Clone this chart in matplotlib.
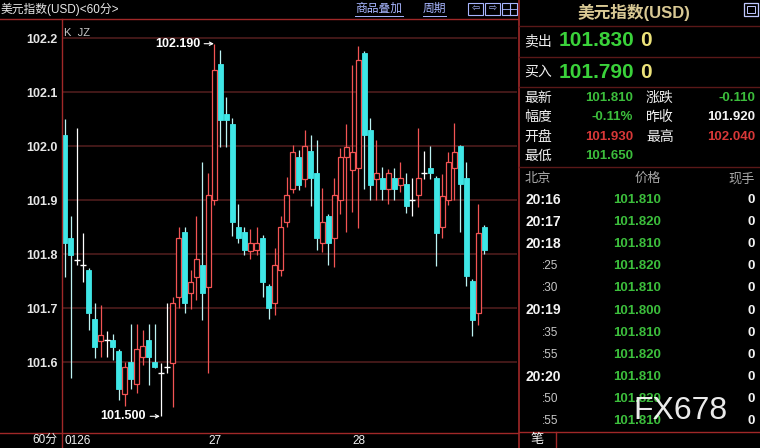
import numpy as np
import matplotlib
matplotlib.use("Agg")
import matplotlib.pyplot as plt
from matplotlib.lines import Line2D
from matplotlib.patches import Rectangle

plt.rcParams['font.family'] = ['Liberation Sans', 'Noto Sans CJK SC', 'DejaVu Sans']

# ---------------- data ----------------
opens = [102.021, 101.831, 101.789, 101.780, 101.771, 101.680, 101.640, 101.641, 101.641, 101.621,
         101.541, 101.600, 101.559, 101.610, 101.641, 101.601, 101.580, 101.592, 101.598, 101.720,
         101.841, 101.728, 101.758, 101.780, 101.740, 101.901, 102.152, 102.059, 102.041, 101.851,
         101.842, 101.806, 101.808, 101.830, 101.741, 101.709, 101.771, 101.859, 101.920, 101.981,
         101.940, 101.992, 101.950, 101.820, 101.871, 101.830, 101.901, 101.981, 101.956, 101.959,
         102.172, 102.031, 101.940, 101.941, 101.920, 101.941, 101.929, 101.930, 101.901, 101.909,
         101.950, 101.959, 101.941, 101.851, 101.901, 101.959, 102.000, 101.941, 101.750, 101.691,
         101.851]
highs = [102.051, 101.870, 102.033, 101.840, 101.775, 101.710, 101.706, 101.658, 101.652, 101.625,
         101.600, 101.671, 101.671, 101.660, 101.671, 101.671, 101.599, 101.710, 101.721, 101.851,
         101.851, 101.771, 101.870, 101.971, 101.950, 102.190, 102.178, 102.092, 102.052, 101.894,
         101.851, 101.847, 101.851, 101.835, 101.745, 101.811, 101.870, 101.944, 102.002, 101.994,
         102.030, 102.021, 102.012, 101.922, 101.875, 101.941, 101.997, 102.041, 102.151, 102.186,
         102.176, 102.052, 102.011, 101.961, 101.958, 101.960, 101.971, 101.950, 101.941, 102.033,
         101.991, 102.001, 101.945, 101.949, 101.990, 102.043, 102.003, 101.971, 101.755, 101.894,
         101.855]
lows = [101.758, 101.571, 101.780, 101.749, 101.660, 101.608, 101.610, 101.610, 101.605, 101.530,
        101.519, 101.551, 101.543, 101.595, 101.558, 101.590, 101.500, 101.580, 101.518, 101.701,
        101.691, 101.699, 101.715, 101.678, 101.580, 101.891, 101.999, 101.999, 101.833, 101.821,
        101.799, 101.791, 101.799, 101.721, 101.680, 101.688, 101.759, 101.851, 101.913, 101.919,
        101.925, 101.889, 101.808, 101.804, 101.780, 101.777, 101.875, 101.842, 101.879, 101.848,
        101.921, 101.901, 101.901, 101.901, 101.893, 101.901, 101.916, 101.876, 101.870, 101.888,
        101.940, 101.940, 101.778, 101.830, 101.891, 101.901, 101.842, 101.742, 101.649, 101.669,
        101.801]
closes = [101.821, 101.799, 101.789, 101.780, 101.691, 101.628, 101.651, 101.641, 101.629, 101.550,
          101.592, 101.570, 101.625, 101.630, 101.609, 101.592, 101.580, 101.592, 101.709, 101.830,
          101.709, 101.749, 101.791, 101.728, 101.910, 102.141, 102.049, 102.049, 101.859, 101.830,
          101.808, 101.820, 101.821, 101.749, 101.700, 101.780, 101.851, 101.910, 101.990, 101.928,
          102.000, 101.941, 101.830, 101.860, 101.820, 101.910, 101.981, 101.999, 101.990, 102.160,
          102.020, 101.928, 101.950, 101.920, 101.950, 101.920, 101.941, 101.889, 101.901, 101.941,
          101.950, 101.950, 101.840, 101.908, 101.971, 101.990, 101.930, 101.759, 101.678, 101.840,
          101.808]

y_ticks = [101.6, 101.7, 101.8, 101.9, 102.0, 102.1, 102.2]
y_labels = ['101.6', '101.7', '101.8', '101.9', '102.0', '102.1', '102.2']
x_tick_pos = [0, 24, 48]
x_tick_labels = ['0126', '27', '28']

sell_price, sell_vol = '101.830', '0'
buy_price, buy_vol = '101.790', '0'
stat_rows = [
    ('最新', '101.810', 'g', '涨跌', '-0.110', 'g'),
    ('幅度', '-0.11%', 'g', '昨收', '101.920', 'w'),
    ('开盘', '101.930', 'r', '最高', '102.040', 'r'),
    ('最低', '101.650', 'g', '', '', 'g'),
]
tick_times = ['20:16', '20:17', '20:18', ':25', ':30', '20:19', ':35', ':55', '20:20', ':50', ':55']
tick_prices = ['101.810', '101.820', '101.810', '101.820', '101.810', '101.800',
               '101.810', '101.820', '101.810', '101.820', '101.810']
tick_vols = ['0'] * 11

# ---------------- figure ----------------
W, H = 760, 448
fig = plt.figure(figsize=(W / 100, H / 100), dpi=100, facecolor='black')

RED = '#f25454'
CYAN = '#3fe6e6'
CYAN_WICK = '#bdf2f2'
GRID = '#4e1c1c'
BORDER = '#a02828'
GREEN = '#3ad23a'
GREEN2 = '#3cbe3c'


def fx(x):
    return x / W


def fy(y):
    return 1 - y / H


def T(x, y, s, **kw):
    kw.setdefault('va', 'center')
    kw.setdefault('color', 'white')
    fig.text(fx(x), fy(y), s, **kw)


def HL(x0, x1, y, color=BORDER, lw=1.0):
    fig.add_artist(Line2D([fx(x0), fx(x1)], [fy(y), fy(y)], color=color, lw=lw,
                          transform=fig.transFigure))


def VL(x, y0, y1, color=BORDER, lw=1.0):
    fig.add_artist(Line2D([fx(x), fx(x)], [fy(y0), fy(y1)], color=color, lw=lw,
                          transform=fig.transFigure))


# main candle axes
ax_l, ax_r, ax_t, ax_b = 62, 517, 19, 432
ax = fig.add_axes([fx(ax_l), fy(ax_b), (ax_r - ax_l) / W, (ax_b - ax_t) / H])
ax.set_facecolor('black')
x0px, step = 64.5, 6.0
ax.set_xlim(-(x0px - ax_l) / step, (ax_r - x0px) / step)
ppu = 540.0  # pixels per 1.0 price
ax.set_ylim(102.2 - (ax_b - 38.3) / ppu, 102.2 + (38.3 - ax_t) / ppu)
for s in ax.spines.values():
    s.set_visible(False)

O = np.array(opens); Hh = np.array(highs); L = np.array(lows); C = np.array(closes)
x = np.arange(len(O))
up = C > O
dn = C < O
dj = C == O

ax.vlines(x[up], L[up], Hh[up], colors=RED, lw=0.9, zorder=2)
ax.vlines(x[dn], L[dn], Hh[dn], colors=CYAN_WICK, lw=0.9, zorder=2)
ax.vlines(x[dj], L[dj], Hh[dj], colors='white', lw=0.9, zorder=2)
bw = 0.72
ax.bar(x[up], (C - O)[up], bottom=O[up], width=bw, facecolor='black', edgecolor=RED,
       linewidth=0.9, zorder=3)
ax.bar(x[dn], (O - C)[dn], bottom=C[dn], width=bw, facecolor=CYAN, edgecolor=CYAN,
       linewidth=0.6, zorder=3)
ax.hlines(O[dj], x[dj] - 0.5, x[dj] + 0.5, colors='white', lw=1.0, zorder=3)

ax.set_yticks(y_ticks)
ax.set_yticklabels(y_labels, fontsize=9, fontweight='bold', color='#e6e6e6')
ax.tick_params(axis='y', length=0, pad=3)
ax.set_xticks(x_tick_pos)
ax.set_xticklabels(x_tick_labels, fontsize=8.5, color='#f0f0f0', ha='left')
for lbl in ax.get_xticklabels():
    lbl.set_x(lbl.get_position()[0])
ax.tick_params(axis='x', length=0, pad=2)
ax.yaxis.grid(True, color=GRID, lw=1.2)
ax.set_axisbelow(True)

# max / min annotations
imax = int(np.argmax(Hh))
imin = int(np.argmin(L))
for i, v in ((imax, Hh[imax]), (imin, L[imin])):
    ax.annotate(f'{v:.3f}', xy=(i - 0.1, v), xytext=(-10, 0), textcoords='offset points',
                ha='right', va='center', color='white', fontsize=9, fontweight='bold',
                arrowprops=dict(arrowstyle='->', color='white', lw=0.8,
                                shrinkA=1, shrinkB=0, mutation_scale=6), zorder=5)

ax.text(0.005, 0.978, 'K  JZ', transform=ax.transAxes, color='#c8c8c8', fontsize=8,
        ha='left', va='top')

# frame lines of left area
HL(0, 518, 19, color=BORDER, lw=1.0)
HL(0, 518, 432.5, color=BORDER, lw=1.0)
VL(62, 19, 448, color=BORDER, lw=1.0)
VL(518.5, 0, 448, color=BORDER, lw=1.2)
T(32, 440, '60分', fontsize=8.5, ha='left', color='#f0f0f0')

# title bar
T(1, 9, '美元指数(USD)<60分>', fontsize=8.5, ha='left', color='#e8e8e8')
LINK = '#a8b6ff'
T(355, 9, '商品叠加', fontsize=8.5, ha='left', color=LINK)
HL(355, 403, 16, color=LINK, lw=0.7)
T(423, 9, '周期', fontsize=8.5, ha='left', color=LINK)
HL(423, 446, 16, color=LINK, lw=0.7)
for bx, sym in ((468, '⇦'), (485, '⇨'), (502, '')):
    fig.add_artist(Rectangle((fx(bx), fy(15)), 15 / W, 12 / H, transform=fig.transFigure,
                             fill=False, edgecolor=LINK, lw=0.8))
    if sym:
        T(bx + 7.5, 9, sym, fontsize=7, ha='center', color=LINK, family=['DejaVu Sans'])
VL(509.5, 3, 15, color=LINK, lw=0.8)
HL(502, 517, 9, color=LINK, lw=0.6)

# ---------------- right panel ----------------
T(634, 12, '美元指数(USD)', fontsize=12, ha='center', color='#d9c994', fontweight='bold')
fig.add_artist(Rectangle((fx(744), fy(16)), 14 / W, 13 / H, transform=fig.transFigure,
                         fill=False, edgecolor='#c0c8ff', lw=0.9))
fig.add_artist(Rectangle((fx(747), fy(13)), 8 / W, 7 / H, transform=fig.transFigure,
                         fill=False, edgecolor='#c0c8ff', lw=0.7))
PL = '#5a1818'
HL(519, 760, 26, color=PL)
HL(519, 760, 57, color=PL)
HL(519, 760, 87, color=PL)
HL(519, 760, 167, color=PL)

T(524, 41, '卖出', fontsize=10, ha='left', color='#f0f0f0')
T(559, 41, sell_price, fontsize=15, fontweight='bold', ha='left', color=GREEN)
T(640, 41, sell_vol, fontsize=15, fontweight='bold', ha='left', color='#ece27a')
T(524, 72, '买入', fontsize=10, ha='left', color='#f0f0f0')
T(559, 72, buy_price, fontsize=15, fontweight='bold', ha='left', color=GREEN)
T(640, 72, buy_vol, fontsize=15, fontweight='bold', ha='left', color='#ece27a')

cmap = {'g': GREEN2, 'w': '#f4f4f4', 'r': '#d83838'}
for k, (l1, v1, c1, l2, v2, c2) in enumerate(stat_rows):
    yy = [98, 117, 136.5, 156][k]
    T(524, yy, l1, fontsize=10, ha='left', color='#f0f0f0')
    T(633, yy, v1, fontsize=9.5, fontweight='bold', ha='right', color=cmap[c1])
    if l2:
        T(646, yy, l2, fontsize=10, ha='left', color='#f0f0f0')
        T(755, yy, v2, fontsize=9.5, fontweight='bold', ha='right', color=cmap[c2])

T(525, 179, '北京', fontsize=9.5, ha='left', color='#a8a8a8')
T(661, 179, '价格', fontsize=9.5, ha='right', color='#a8a8a8')
T(755, 179, '现手', fontsize=9.5, ha='right', color='#a8a8a8')
for k, (tt, pp, vv) in enumerate(zip(tick_times, tick_prices, tick_vols)):
    yy = 200 + k * 22.1
    if tt.startswith(':'):
        T(558, yy, tt, fontsize=8.5, ha='right', color='#c8c8c8')
    else:
        T(561, yy, tt, fontsize=10, fontweight='bold', ha='right', color='#f4f4f4')
    T(661, yy, pp, fontsize=9.5, fontweight='bold', ha='right', color=GREEN2)
    T(755, yy, vv, fontsize=9.5, fontweight='bold', ha='right', color='#f4f4f4')

# bottom tab
HL(519, 760, 432, color=BORDER, lw=1.0)
VL(556, 432, 448, color=BORDER, lw=1.0)
T(537, 440, '笔', fontsize=9.5, ha='center', color='#f4f4f4')

# watermark
T(680, 411, 'FX678', fontsize=23, ha='center', color='white', alpha=0.92)

fig.savefig('out.png', dpi=100, facecolor='black')
